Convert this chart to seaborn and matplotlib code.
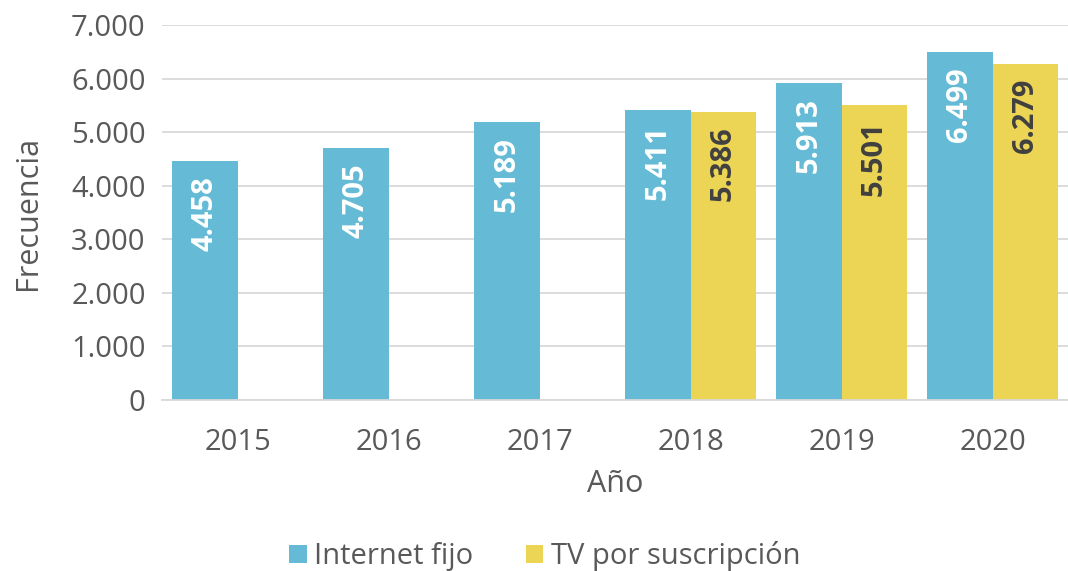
import numpy as np
import pandas as pd
import matplotlib
matplotlib.use('Agg')
import matplotlib.pyplot as plt
import matplotlib.ticker as mticker
import seaborn as sns

# datos
anios = ['2015', '2016', '2017', '2018', '2019', '2020']
internet_fijo = [4458, 4705, 5189, 5411, 5913, 6499]
tv_suscripcion = [np.nan, np.nan, np.nan, 5386, 5501, 6279]
series = ['Internet fijo', 'TV por suscripción']
colores = {'Internet fijo': '#65BAD5', 'TV por suscripción': '#ECD555'}
color_texto = '#595959'

df = pd.DataFrame({
    'Año': anios * 2,
    'Frecuencia': internet_fijo + tv_suscripcion,
    'Serie': [series[0]] * len(anios) + [series[1]] * len(anios),
})

sns.set_style('white')
plt.rcParams['font.family'] = ['Open Sans', 'DejaVu Sans']

fig = plt.figure(figsize=(10.68, 5.71), dpi=100)
ax = fig.add_axes([0.152, 0.2995, 0.848, 0.6565])

sns.barplot(data=df, x='Año', y='Frecuencia', hue='Serie', hue_order=series,
            palette=colores, width=0.87, saturation=1, linewidth=0,
            edgecolor='none', ax=ax, legend=True)

ax.set_ylim(0, 7000)
ax.set_xlim(-0.5, 5.5)
ax.yaxis.set_major_locator(mticker.MultipleLocator(1000))
ax.yaxis.set_major_formatter(mticker.FuncFormatter(lambda v, p: f'{int(v):,}'.replace(',', '.')))
ax.grid(axis='y', color='#D9D9D9', linewidth=1.3)
ax.set_axisbelow(True)
for s in ['top', 'right', 'left']:
    ax.spines[s].set_visible(False)
ax.spines['bottom'].set_color('#D9D9D9')
ax.spines['bottom'].set_linewidth(1.3)
ax.tick_params(axis='both', length=0, labelsize=21, colors=color_texto, pad=12)
ax.tick_params(axis='x', pad=20)
ax.set_xlabel('Año', fontsize=22, color=color_texto, labelpad=9)
ax.set_ylabel('Frecuencia', fontsize=22, color=color_texto, labelpad=20)

# etiquetas de valores dentro de las barras
colores_etiq = ['white', '#404040']
for cont, col in zip(ax.containers, colores_etiq):
    for barra in cont:
        h = barra.get_height()
        if np.isnan(h) or h == 0:
            continue
        ax.annotate(f'{int(h):,}'.replace(',', '.'),
                    (barra.get_x() + barra.get_width() / 2, h),
                    xytext=(0, -11), textcoords='offset points',
                    rotation=90, ha='center', va='top',
                    fontsize=21, fontweight='bold', color=col)

ax.legend(loc='center', bbox_to_anchor=(0.51, 0.026), bbox_transform=fig.transFigure,
          ncol=2, frameon=False, borderpad=0,
          fontsize=21, labelcolor=color_texto, handlelength=0.6, handleheight=0.6,
          handletextpad=0.25, columnspacing=1.8)

fig.savefig('out.png', dpi=100)
